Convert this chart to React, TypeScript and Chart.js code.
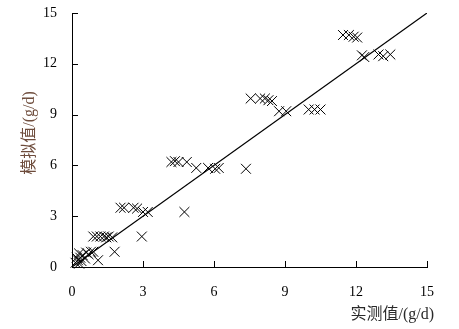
import { useEffect, useRef } from "react";
import { Chart, registerables } from "chart.js";

Chart.register(...registerables);

// Measured (x) and simulated (y) daily values, g/d
const measuredValues = [
  0.15, 0.25, 0.3, 0.35, 0.4, 0.45, 0.55, 0.6, 0.7, 0.8, 0.9, 0.3, 0.2, 1.1, 1.8,
  0.9, 1.05, 1.2, 1.35, 1.45, 1.55, 1.7, 2.95,
  2.05, 2.2, 2.6, 2.75, 3.0, 3.2, 4.75,
  4.2, 4.35, 4.5, 4.85, 5.25, 5.75, 6.05, 6.2, 7.35,
  7.55, 7.95, 8.15, 8.3, 8.45, 8.75, 9.05, 10.0, 10.25, 10.5,
  11.45, 11.7, 11.9, 12.05, 12.25, 12.35, 12.95, 13.15, 13.45,
];
const simulatedValues = [
  0.25, 0.4, 0.2, 0.55, 0.35, 0.7, 0.5, 0.85, 0.75, 0.9, 0.9, 0.8, 0.55, 0.4, 0.9,
  1.8, 1.8, 1.8, 1.8, 1.75, 1.8, 1.75, 1.8,
  3.5, 3.5, 3.5, 3.45, 3.25, 3.25, 3.25,
  6.2, 6.25, 6.2, 6.2, 5.85, 5.85, 5.8, 5.85, 5.8,
  9.95, 9.95, 9.95, 9.85, 9.8, 9.2, 9.2, 9.3, 9.3, 9.3,
  13.7, 13.7, 13.6, 13.55, 12.5, 12.4, 12.55, 12.45, 12.55,
];
// 1:1 reference line
const lineX = [0, 15];
const lineY = [0, 15];
const tickValues = [3, 6, 9, 12, 15];

const xTitle = "实测值/(g/d)";
const yTitle = "模拟值/(g/d)";

const serif = '"Liberation Serif", "Noto Sans CJK SC", serif';

const decorPlugin = {
  id: "decor",
  afterDraw(chart: any) {
    const { ctx, chartArea, scales } = chart;
    const xs = scales.x;
    const ys = scales.y;
    ctx.save();
    ctx.strokeStyle = "#000";
    ctx.lineWidth = 1;
    ctx.beginPath();
    for (const v of tickValues) {
      const px = Math.round(xs.getPixelForValue(v)) + 0.5;
      ctx.moveTo(px, chartArea.bottom);
      ctx.lineTo(px, chartArea.bottom - 6);
      const py = Math.round(ys.getPixelForValue(v)) + 0.5;
      ctx.moveTo(chartArea.left, py);
      ctx.lineTo(chartArea.left + 6, py);
    }
    ctx.stroke();

    ctx.font = `16px ${serif}`;
    ctx.textBaseline = "middle";
    ctx.fillStyle = "#2a2a2a";
    ctx.textAlign = "right";
    ctx.fillText(xTitle, 434, 315);

    ctx.fillStyle = "#6e4c3c";
    ctx.translate(30, 133);
    ctx.rotate(-Math.PI / 2);
    ctx.textAlign = "center";
    ctx.fillText(yTitle, 0, 0);
    ctx.restore();
  },
};

export default function App() {
  const canvasRef = useRef<HTMLCanvasElement>(null);

  useEffect(() => {
    const canvas = canvasRef.current;
    if (!canvas) return;
    const points = measuredValues.map((x, i) => ({ x, y: simulatedValues[i] }));
    const line = lineX.map((x, i) => ({ x, y: lineY[i] }));
    const chart = new Chart(canvas, {
      type: "scatter",
      data: {
        datasets: [
          {
            data: points,
            pointStyle: "crossRot",
            pointRadius: 7,
            pointBorderWidth: 1,
            borderColor: "#000",
            backgroundColor: "#000",
            showLine: false,
            clip: false,
          },
          {
            data: line,
            showLine: true,
            pointRadius: 0,
            borderColor: "#000",
            borderWidth: 1.2,
          },
        ],
      },
      options: {
        animation: false,
        responsive: false,
        devicePixelRatio: 1,
        layout: { autoPadding: false, padding: { top: 13, right: 32, left: 0, bottom: 0 } },
        plugins: {
          legend: { display: false },
          tooltip: { enabled: false },
        },
        scales: {
          x: {
            type: "linear",
            min: 0,
            max: 15,
            afterFit: (s: any) => {
              s.height = 62;
              s.paddingLeft = 0;
              s.paddingRight = 0;
            },
            grid: { display: false, drawTicks: false },
            border: { display: true, color: "#000", width: 1 },
            ticks: {
              stepSize: 3,
              padding: 17,
              color: "#000",
              font: { family: serif, size: 14 },
            },
          },
          y: {
            type: "linear",
            min: 0,
            max: 15,
            afterFit: (s: any) => {
              s.width = 72;
              s.paddingTop = 0;
              s.paddingBottom = 0;
            },
            grid: { display: false, drawTicks: false },
            border: { display: true, color: "#000", width: 1 },
            ticks: {
              stepSize: 3,
              padding: 15,
              color: "#000",
              font: { family: serif, size: 14 },
            },
          },
        },
      },
      plugins: [decorPlugin],
    });
    return () => chart.destroy();
  }, []);

  return (
    <div style={{ position: "absolute", left: 0, top: 0, width: 459, height: 329, background: "#fff" }}>
      <canvas ref={canvasRef} width={459} height={329} />
    </div>
  );
}
